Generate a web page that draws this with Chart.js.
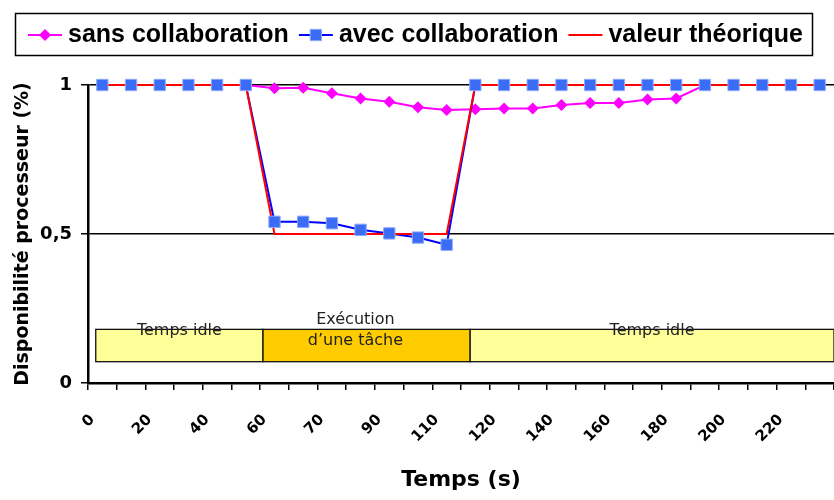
<!DOCTYPE html>
<html>
<head>
<meta charset="utf-8">
<script src="https://cdn.jsdelivr.net/npm/chart.js@4.4.1/dist/chart.umd.min.js"></script>
<style>
  html, body { margin: 0; padding: 0; background: #fff; overflow: hidden; }
  #wrap { position: relative; width: 834px; height: 500px; }
</style>
</head>
<body>
<div id="wrap"><canvas id="c" width="834" height="500"></canvas></div>
<script>
// Time axis (s): a label on every other sample
const timeLabels = ['0', '', '20', '', '40', '', '60', '', '70', '', '90', '', '110', '',
                    '120', '', '140', '', '160', '', '180', '', '200', '', '220', ''];

// Processor availability per sample
const sansCollab = [1, 1, 1, 1, 1, 1, 0.989, 0.991, 0.972, 0.955, 0.944, 0.925, 0.916,
                    0.919, 0.921, 0.921, 0.933, 0.940, 0.940, 0.951, 0.955, 1, 1, 1, 1, 1];
const avecCollab = [1, 1, 1, 1, 1, 1, 0.541, 0.541, 0.536, 0.514, 0.502, 0.488, 0.464,
                    1, 1, 1, 1, 1, 1, 1, 1, 1, 1, 1, 1, 1];
const theorique  = [1, 1, 1, 1, 1, 1, 0.5, 0.5, 0.5, 0.5, 0.5, 0.5, 0.5,
                    1, 1, 1, 1, 1, 1, 1, 1, 1, 1, 1, 1, 1];

const seriesNames = ['sans collaboration', 'avec collaboration', 'valeur théorique'];
const yTickValues = [0, 0.5, 1];

// Activity phases along the time axis (sample index units) and the band they occupy
const phases = [
  { kind: 'idle', text: ['Temps idle'], from: -0.23, to: 5.6 },
  { kind: 'busy', text: ['Exécution', 'd’une tâche'], from: 5.6, to: 12.82, at: 8.82 },
  { kind: 'idle', text: ['Temps idle'], from: 12.82, to: 25.5 }
];
const phaseBand = [0.0715, 0.18];

const phaseFill = { idle: '#ffff99', busy: '#ffcc00' };

// Boxes marking the idle / busy periods, drawn under the curves
const phasePlugin = {
  id: 'phases',
  beforeDatasetsDraw(chart) {
    const { ctx, scales: { x, y } } = chart;
    const top = y.getPixelForValue(phaseBand[1]);
    const bottom = y.getPixelForValue(phaseBand[0]);
    ctx.save();
    phases.forEach(p => {
      const l = x.getPixelForValue(p.from);
      const r = x.getPixelForValue(p.to);
      ctx.fillStyle = phaseFill[p.kind];
      ctx.fillRect(l, top, r - l, bottom - top);
      ctx.strokeStyle = '#111';
      ctx.lineWidth = 1.3;
      ctx.strokeRect(l, top, r - l, bottom - top);
    });
    ctx.font = '16px "DejaVu Sans", Verdana, sans-serif';
    ctx.fillStyle = '#222';
    ctx.textAlign = 'center';
    ctx.textBaseline = 'middle';
    phases.forEach(p => {
      const cx = p.at !== undefined ? x.getPixelForValue(p.at)
                                    : (x.getPixelForValue(p.from) + x.getPixelForValue(p.to)) / 2;
      const n = p.text.length;
      const lh = 21;
      const cy = top + 1;
      p.text.forEach((t, i) => {
        ctx.fillText(t, cx, cy + (i - (n - 1) / 2) * lh);
      });
    });
    ctx.restore();
  }
};

// Framed legend across the top: line sample, marker, series name
const legendPlugin = {
  id: 'framedLegend',
  afterDraw(chart) {
    const ctx = chart.ctx;
    const ds = chart.data.datasets;
    const keys = [ds[0], ds[3], ds[2]].map((d, i) => ({
      text: seriesNames[i],
      line: i === 1 ? ds[1].borderColor : d.borderColor,
      style: d.pointRadius ? d.pointStyle : null,
      radius: d.pointRadius,
      fill: d.backgroundColor,
      stroke: d.pointBorderColor || d.borderColor,
      bw: d.pointBorderWidth || 0
    }));
    ctx.save();
    ctx.strokeStyle = '#000';
    ctx.lineWidth = 1.5;
    ctx.strokeRect(15.5, 13.5, 797, 42);
    ctx.font = 'bold 25px "Liberation Sans", Arial, sans-serif';
    ctx.textBaseline = 'middle';
    ctx.textAlign = 'left';
    const cy = 35;
    let x = 28;
    keys.forEach(k => {
      ctx.strokeStyle = k.line;
      ctx.lineWidth = 2;
      ctx.beginPath();
      ctx.moveTo(x, cy);
      ctx.lineTo(x + 34, cy);
      ctx.stroke();
      if (k.style) {
        ctx.fillStyle = k.fill;
        ctx.strokeStyle = k.stroke;
        ctx.lineWidth = k.bw;
        Chart.helpers.drawPoint(ctx, { pointStyle: k.style, radius: k.radius, borderWidth: k.bw, rotation: 0 }, x + 17, cy);
      }
      x += 40;
      ctx.fillStyle = '#000';
      ctx.fillText(k.text, x, cy);
      x += ctx.measureText(k.text).width + 10;
    });
    ctx.restore();
  }
};

const axisFont = (size) => ({ family: '"DejaVu Sans", Verdana, sans-serif', weight: 'bold', size });

new Chart(document.getElementById('c'), {
  type: 'line',
  data: {
    labels: timeLabels,
    datasets: [
      { label: seriesNames[0], data: sansCollab, borderColor: '#ff00ff', backgroundColor: '#ff00ff',
        borderWidth: 2, pointStyle: 'rectRot', pointRadius: 6, pointBorderWidth: 0, order: 3, clip: false },
      { label: seriesNames[1], data: avecCollab, borderColor: '#0000ff', borderWidth: 2,
        pointRadius: 0, order: 2, clip: false },
      { label: seriesNames[2], data: theorique, borderColor: '#ff0000', borderWidth: 2,
        pointRadius: 0, order: 1, clip: false },
      { label: seriesNames[1], data: avecCollab, showLine: false, pointStyle: 'rect', pointRadius: 8,
        backgroundColor: '#3b6cf5', borderColor: '#0000ff', pointBorderColor: '#8aa8ff',
        pointBorderWidth: 1, order: 0, clip: false }
    ]
  },
  options: {
    responsive: false,
    animation: false,
    events: [],
    layout: { autoPadding: false, padding: { left: 0, right: 0, top: 85, bottom: 5 } },
    plugins: { legend: { display: false }, tooltip: { enabled: false } },
    scales: {
      x: {
        offset: true,
        grid: { offset: true, drawOnChartArea: false, color: '#000', lineWidth: 1.5, tickLength: 7 },
        border: { color: '#000', width: 2.5 },
        ticks: { autoSkip: false, minRotation: 45, maxRotation: 45, labelOffset: -10, padding: 21,
                 color: '#000', font: axisFont(15) },
        title: { display: true, text: 'Temps (s)', color: '#000', font: axisFont(22),
                 padding: { top: 0, bottom: 2 } },
        afterFit(s) { s.height = 112; s.paddingLeft = 0; s.paddingRight = 0; }
      },
      y: {
        min: 0, max: 1,
        afterBuildTicks(s) { s.ticks = yTickValues.map(v => ({ value: v })); },
        grid: { color: '#000', lineWidth: 1.5, tickLength: 7 },
        border: { color: '#000', width: 2.5 },
        ticks: { padding: 9, color: '#000', font: axisFont(18),
                 callback: v => String(v).replace('.', ',') },
        title: { display: true, text: 'Disponibilité processeur (%)', color: '#000', font: axisFont(19),
                 padding: { top: 12, bottom: 0 } },
        afterFit(s) { s.width = 88; s.paddingTop = 0; s.paddingBottom = 0; }
      }
    }
  },
  plugins: [phasePlugin, legendPlugin]
});
</script>
</body>
</html>
